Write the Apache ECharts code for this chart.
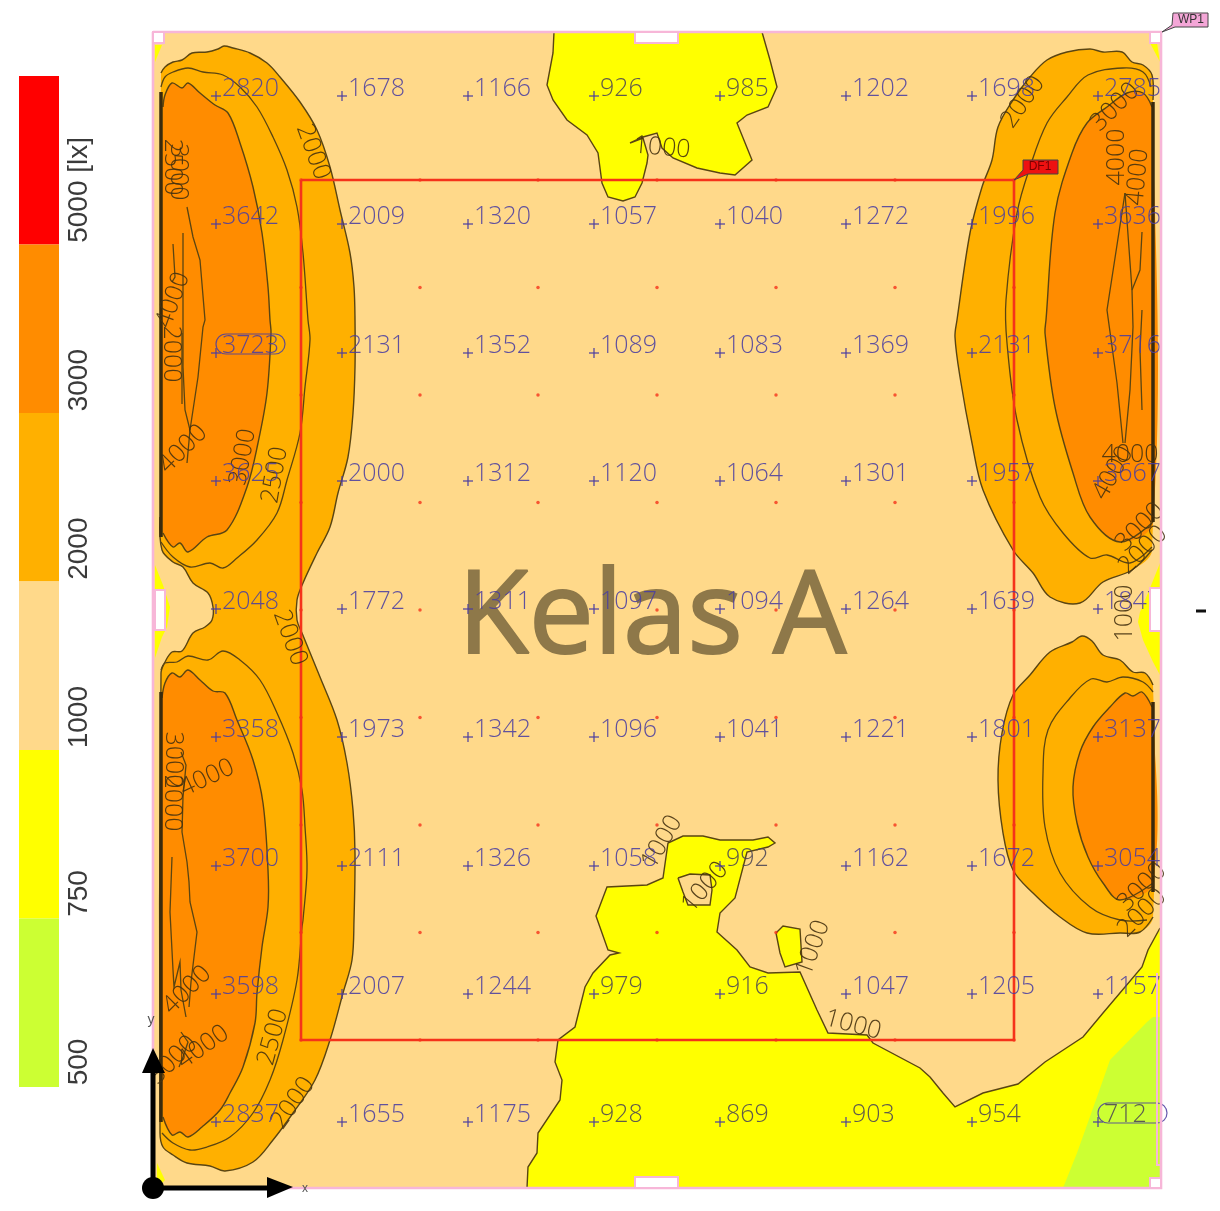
<!DOCTYPE html>
<html><head><meta charset="utf-8"><style>html,body{margin:0;padding:0;background:#fff}#c{width:1220px;height:1211px;filter:blur(0.4px)}</style>
<script src="https://cdn.jsdelivr.net/npm/echarts@6/dist/echarts.min.js"></script></head><body><div id="c"></div>
<script>
// ---- illuminance readings (lx) at the measuring grid, top row first
const gridColumns=[63,189,315,441,567,693,819,945];
const gridRows=[64,192,321,449,577,705,834,962,1090];
const row1=[2820,1678,1166,926,985,1202,1698,2785];
const row2=[3642,2009,1320,1057,1040,1272,1996,3636];
const row3=[3723,2131,1352,1089,1083,1369,2131,3716];
const row4=[3625,2000,1312,1120,1064,1301,1957,3667];
const row5=[2048,1772,1311,1097,1094,1264,1639,1847];
const row6=[3358,1973,1342,1096,1041,1221,1801,3137];
const row7=[3700,2111,1326,1058,992,1162,1672,3054];
const row8=[3598,2007,1244,979,916,1047,1205,1157];
const row9=[2837,1655,1175,928,869,903,954,712];
const readings=[row1,row2,row3,row4,row5,row6,row7,row8,row9];
// ---- colour scale
const legendBands=['5000 [lx]','3000','2000','1000','750','500'];
// ---- calculation surface
const calcColumns=[148,267,385,504,623,742,861];
const calcRows=[148,255.5,363,470.5,578,685.5,793,900.5,1008];
// ---- contour outlines, in room units
const left2000=[[8,41],[12,35],[20,30],[29,28],[39,21],[54,20],[65,17],[71,14],[80,16],[97,21],[114,31],[127,45],[147,70],[164,98],[177,135],[187,178],[197,221],[201,255],[202,288],[202,335],[200,381],[195,425],[185,461],[177,495],[164,521],[150,551],[144,568],[144,588],[149,601],[167,645],[184,688],[194,731],[200,778],[202,821],[201,888],[199,928],[190,961],[177,1008],[162,1048],[140,1081],[120,1108],[100,1130],[72,1139],[57,1134],[34,1131],[20,1123],[10,1115],[7,1101],[8,641],[12,630],[19,620],[29,619],[40,601],[52,595],[59,588],[60,575],[55,561],[40,551],[30,535],[20,530],[9,518],[7,485]];
const topLeft2500=[[8,55],[12,45],[20,40],[35,36],[50,40],[70,43],[87,55],[104,75],[120,105],[134,138],[144,175],[150,221],[155,288],[157,308],[152,355],[147,401],[134,448],[124,481],[104,508],[84,526],[70,536],[57,531],[37,535],[20,525],[8,510]];
const bottomLeft2500=[[8,638],[12,631],[24,630],[35,624],[55,628],[70,619],[87,628],[107,648],[124,681],[140,721],[149,758],[152,795],[154,838],[150,888],[149,895],[144,948],[130,1008],[117,1048],[100,1081],[77,1105],[54,1115],[37,1118],[20,1111],[9,1101]];
const topLeft3000=[[10,75],[12,63],[19,51],[29,56],[35,51],[47,61],[62,73],[75,81],[87,111],[100,155],[109,201],[115,255],[117,288],[118,301],[114,361],[105,411],[94,455],[74,498],[54,505],[35,520],[27,511],[20,515],[10,501]];
const bottomLeft3000=[[9,666],[12,651],[19,641],[27,645],[35,638],[47,648],[60,659],[72,661],[84,688],[100,728],[110,771],[115,838],[115,875],[109,915],[104,961],[102,991],[90,1035],[77,1061],[67,1078],[49,1095],[35,1105],[27,1100],[19,1103],[10,1085]];
const topRight2000=[[1000,68],[999,43],[990,33],[979,30],[969,20],[950,20],[937,17],[914,20],[894,28],[877,45],[860,68],[845,95],[839,128],[829,155],[817,201],[804,288],[802,305],[807,345],[819,411],[830,458],[860,518],[880,541],[897,565],[927,571],[950,550],[979,538],[999,518]];
const topRight2500=[[998,55],[990,40],[970,36],[935,43],[914,65],[894,91],[877,135],[864,181],[853,268],[854,311],[864,388],[887,465],[910,501],[937,526],[954,523],[977,531],[999,515]];
const topRight3000=[[999,75],[990,61],[974,61],[954,75],[934,91],[919,121],[902,181],[893,288],[892,301],[902,375],[920,441],[937,485],[967,510],[1000,490]];
const midRight2000=[[1000,653],[992,641],[980,640],[967,628],[950,623],[939,609],[929,604],[919,610],[897,620],[877,643],[860,663],[849,701],[845,748],[850,801],[860,838],[880,861],[907,885],[934,901],[967,901],[987,900],[1000,885]];
const midRight2500=[[1000,660],[990,650],[970,645],[954,650],[938,647],[917,666],[895,698],[890,741],[892,795],[907,841],[937,875],[967,888],[994,888]];
const midRight3000=[[999,675],[989,660],[980,664],[972,661],[957,675],[940,695],[927,720],[920,755],[924,791],[935,825],[950,851],[967,868],[1000,851]];
const top1000=[[401,0],[400,21],[394,53],[400,68],[414,88],[434,103],[445,121],[449,151],[455,165],[470,169],[482,165],[489,151],[494,131],[495,123],[490,106],[477,111],[490,105],[504,101],[509,116],[520,126],[544,136],[567,141],[582,143],[599,128],[584,91],[594,83],[615,75],[624,55],[617,28],[609,0]];
const bottom1000=[[374,1156],[375,1135],[384,1121],[385,1101],[407,1068],[409,1048],[402,1030],[405,1008],[422,995],[432,955],[440,941],[457,923],[466,921],[455,918],[443,884],[454,855],[494,853],[510,846],[515,811],[530,804],[550,804],[567,808],[600,808],[615,805],[622,811],[615,815],[594,820],[582,866],[567,881],[564,900],[584,918],[597,935],[615,941],[647,940],[664,978],[675,1001],[714,1003],[720,1011],[767,1036],[777,1045],[790,1061],[802,1075],[830,1061],[865,1052],[892,1030],[930,1005],[950,981],[989,935],[995,918],[1007,896]];
const bottomClosure=[[1008,1156]];
const islandPeach=[[525,846],[537,842],[557,843],[559,858],[557,873],[535,873],[530,860],[525,846]];
const islandYellow=[[623,901],[630,894],[647,897],[649,930],[632,935],[627,921],[623,901]];
const right750=[[910,1156],[924,1121],[944,1065],[957,1028],[994,990],[1000,985],[1007,985],[1007,1156]];
const wedgeTopLeft=[[2,13],[9,13],[2,30]];
const wedgeTopRight=[[997,11],[1004,11],[1007,30]];
const wedgeNeckLeft=[[2,533],[10,553],[17,575],[14,595],[9,605],[2,626]];
const wedgeNeckRight=[[1007,531],[995,561],[987,580],[985,590],[990,608],[1000,630],[1007,643]];
const wedgeBottomLeft=[[4,1131],[12,1148],[4,1156]];
// inner 4000 lx lines and dark wall faces
const lines4000=[
 [[34,175],[40,205],[47,228],[52,288],[50,295],[45,345],[37,398],[34,431]],
 [[30,201],[30,288],[30,335],[32,378],[37,398]],
 [[20,212],[22,245],[19,250]],
 [[29,301],[29,372]],
 [[28,720],[33,733],[30,765],[29,800],[34,830],[36,850],[37,870],[44,900],[41,925],[38,950],[36,975]],
 [[19,825],[17,880],[20,938],[21,955],[27,930],[28,958],[33,985]],
 [[28,1000],[35,1010],[30,1025],[26,1035]],
 [[972,161],[954,278],[964,351],[970,411]],
 [[972,161],[979,258],[980,295],[977,358],[972,411]],
 [[989,200],[987,238],[979,258]],
 [[989,278],[987,318],[989,378]]
];
const wallFaces=[[[8,60],[8,505]],[[8,660],[8,1090]],[[1000,70],[1000,490]],[[1000,670],[1000,860]]];
// contour annotations: position, angle (degrees), level
const contourLabels=[
 [160,120,-70,'2000'],[19,135,-90,'2500'],[25,140,-90,'3000'],[20,268,70,'4000'],[18,322,-90,'2000'],[30,417,45,'4000'],[90,425,80,'3000'],[122,443,80,'2500'],[137,606,-70,'2000'],
 [20,728,-90,'3000'],[19,771,-90,'2000'],[54,746,25,'4000'],[34,958,45,'4000'],[20,1028,45,'3000'],[50,1015,35,'4000'],[120,1005,75,'2500'],[140,1071,55,'2000'],
 [870,70,55,'2000'],[962,75,45,'3000'],[964,125,90,'4000'],[985,145,85,'4000'],[977,423,0,'4000'],[960,441,60,'4000'],[987,495,45,'3000'],[990,518,45,'2000'],[972,581,90,'1000'],
 [989,855,45,'3000'],[989,881,45,'2000'],
 [509,116,-5,'1000'],[509,810,60,'1000'],[552,855,50,'1000'],[660,916,70,'1000'],[700,993,-15,'1000']
];
const watermark='Kelas A';
const windowsWhite=[[482,0,43,11],[482,1145,43,11],[2,558,10,40],[997,556,11,43],[0,0,11,11],[997,0,11,11],[997,1146,11,10]];
const calcOutline=[[148,148],[861,148],[861,1008],[148,1008],[148,148]];
const roomOutline=[[0,0],[1008,0],[1008,1156],[0,1156],[0,0]];
const roomInnerLine=[[1004,941],[1004,1133],[1008,1133]];
const wpTag=[[1020,-19],[1055,-19],[1055,-5],[1022,-5],[1009,0],[1019,-7]];
const dfTag=[[870,128],[905,128],[905,142],[875,142],[861,148],[870,138]];

// ---- styles
const C={green:'#CCFF33',yellow:'#FFFF00',peach:'#FFD98A',amber:'#FFB000',orange:'#FF8C00',red:'#FF0000',line:'#5A4512',pink:'#F7B6D8',value:'#4A3DA0',red2:'#F5331A'};
const legendColors=[C.red,C.orange,C.amber,C.peach,C.yellow,C.green];
const S=0.35;
const fills=[
 [C.yellow,top1000,[],0],[C.yellow,bottom1000,bottomClosure,0],[C.green,right750,null,0],
 [C.yellow,wedgeTopLeft,null,0],[C.yellow,wedgeTopRight,null,0],[C.yellow,wedgeNeckLeft,null,0],[C.yellow,wedgeNeckRight,null,0],[C.yellow,wedgeBottomLeft,null,0],
 [C.peach,islandPeach,[],0],[C.yellow,islandYellow,[],0],
 [C.amber,left2000,[],S],[C.amber,topRight2000,[],S],[C.amber,midRight2000,[],S],
 [C.orange,topLeft3000,[],S],[C.orange,bottomLeft3000,[],S],[C.orange,topRight3000,[],S],[C.orange,midRight3000,[],S]
];
const contourLines=[topLeft2500,bottomLeft2500,topRight2500,midRight2500].concat(lines4000);
const flat=[];readings.forEach((r,j)=>r.forEach((v,i)=>flat.push([gridColumns[i],gridRows[j],v])));
const allVals=flat.map(d=>d[2]);const hi=Math.max(...allVals),lo=Math.min(...allVals);
const FONT='300 25px "Open Sans"';
const idx=a=>a.map((_,i)=>[i]);
const P=(pts,api)=>pts.map(p=>api.coord(p));
const base={type:'custom',coordinateSystem:'cartesian2d',xAxisIndex:0,yAxisIndex:0,silent:true,clip:false,animation:false};
const dot=calcColumns.flatMap(x=>calcRows.map(y=>[x,y]));
const tag=(api,pts,fill,txt,tx,ty,col)=>{const c=api.coord([tx,ty]);return {type:'group',children:[
 {type:'polygon',shape:{points:P(pts,api)},style:{fill,stroke:'#444',lineWidth:1}},
 {type:'text',x:c[0],y:c[1],style:{text:txt,fill:col,font:'12px "Liberation Sans"',align:'center',verticalAlign:'middle'}}]};};
const option={
 animation:false,backgroundColor:'#fff',
 grid:[{left:153,top:32,width:1008,height:1156},{left:19,top:76,width:40,height:1011}],
 xAxis:[{type:'value',min:0,max:1008,show:false,gridIndex:0},{type:'value',min:0,max:1,show:false,gridIndex:1}],
 yAxis:[{type:'value',min:0,max:1156,inverse:true,show:false,gridIndex:0},{type:'category',data:legendBands,inverse:true,show:false,gridIndex:1}],
 series:[
  {type:'bar',xAxisIndex:1,yAxisIndex:1,barWidth:'100%',silent:true,z:1,
   data:legendBands.map((b,i)=>({value:1,itemStyle:{color:legendColors[i]}})),
   label:{show:true,formatter:p=>p.name,position:['151%','99%'],rotate:90,align:'left',verticalAlign:'middle',color:'#3A3A3A',fontFamily:'"Liberation Sans Narrow","Liberation Sans"',fontSize:28}},
  // room floor
  Object.assign({},base,{z:2,data:[[0]],renderItem:(p,api)=>({type:'polygon',shape:{points:P(roomOutline,api)},style:{fill:C.peach}})}),
  // contour fills
  Object.assign({},base,{z:3,data:idx(fills),renderItem:(p,api)=>{const f=fills[p.dataIndex];const ch=[{type:'polygon',shape:{points:P(f[1].concat(f[2]||[]),api),smooth:f[3]},style:{fill:f[0]}}];
    if(f[2])ch.push({type:'polyline',shape:{points:P(f[1],api),smooth:f[3]},style:{fill:'none',stroke:C.line,lineWidth:1.4}});return {type:'group',children:ch};}}),
  // contour lines
  Object.assign({},base,{z:4,data:idx(contourLines),renderItem:(p,api)=>({type:'polyline',shape:{points:P(contourLines[p.dataIndex],api),smooth:p.dataIndex<4?S:0},style:{fill:'none',stroke:C.line,lineWidth:1.3}})}),
  Object.assign({},base,{z:4,data:idx(wallFaces),renderItem:(p,api)=>({type:'polyline',shape:{points:P(wallFaces[p.dataIndex],api)},style:{fill:'none',stroke:'#3A2A0C',lineWidth:3.5}})}),
  // calculation surface
  Object.assign({},base,{z:5,data:[[0]],renderItem:(p,api)=>({type:'polyline',shape:{points:P(calcOutline,api)},style:{fill:'none',stroke:C.red2,lineWidth:2.6}})}),
  {type:'scatter',xAxisIndex:0,yAxisIndex:0,z:6,silent:true,symbol:'circle',symbolSize:3.5,itemStyle:{color:C.red2},data:dot},
  // watermark
  Object.assign({},base,{z:7,data:[[499,588]],renderItem:(p,api)=>{const c=api.coord([api.value(0),api.value(1)]);return {type:'text',x:c[0],y:c[1],style:{text:watermark,fill:'#8E7849',stroke:'#8E7849',lineWidth:2,font:'116px "Open Sans"',align:'center',verticalAlign:'middle'}};}}),
  // contour labels
  Object.assign({},base,{z:8,data:idx(contourLabels),renderItem:(p,api)=>{const l=contourLabels[p.dataIndex];const c=api.coord([l[0],l[1]]);return {type:'text',x:c[0],y:c[1],rotation:l[2]*Math.PI/180,style:{text:l[3],fill:'rgba(70,50,15,.9)',font:FONT,align:'center',verticalAlign:'middle'}};}}),
  // readings
  Object.assign({},base,{z:9,data:flat,encode:{x:0,y:1},renderItem:(p,api)=>{const c=api.coord([api.value(0),api.value(1)]);const v=api.value(2);const x=c[0],y=c[1];
    const ch=[{type:'line',shape:{x1:x-5,y1:y,x2:x+5,y2:y},style:{stroke:C.value,lineWidth:1.2}},{type:'line',shape:{x1:x,y1:y-5,x2:x,y2:y+5},style:{stroke:C.value,lineWidth:1.2}},
     {type:'text',x:x+6,y:y+5,style:{text:String(v),fill:v<1000?'#4A4455':C.value,opacity:.88,font:FONT,align:'left',verticalAlign:'bottom'}}];
    if(v===hi||v===lo)ch.push({type:'rect',shape:{x:x,y:y-19,width:69,height:20,r:10},style:{fill:'none',stroke:C.value,lineWidth:1.2,opacity:.85}});
    return {type:'group',children:ch};}}),
  // room outline and openings
  Object.assign({},base,{z:10,data:[[0]],renderItem:(p,api)=>({type:'group',children:[
    {type:'polyline',shape:{points:P(roomOutline,api)},style:{fill:'none',stroke:C.pink,lineWidth:2.6}},
    {type:'polyline',shape:{points:P(roomInnerLine,api)},style:{fill:'none',stroke:C.pink,lineWidth:2}}]})}),
  Object.assign({},base,{z:11,data:idx(windowsWhite),renderItem:(p,api)=>{const w=windowsWhite[p.dataIndex];const a=api.coord([w[0],w[1]]),b=api.coord([w[0]+w[2],w[1]+w[3]]);return {type:'rect',shape:{x:a[0],y:a[1],width:b[0]-a[0],height:b[1]-a[1]},style:{fill:'#fff',stroke:C.pink,lineWidth:2}};}}),
  // origin arrows
  Object.assign({},base,{z:12,data:[[0,1156]],renderItem:(p,api)=>{const a=(x,y)=>api.coord([x,y]);const o=a(0,1156);return {type:'group',children:[
    {type:'line',shape:{x1:o[0],y1:o[1],x2:a(0,1040)[0],y2:a(0,1040)[1]},style:{stroke:'#000',lineWidth:5}},
    {type:'line',shape:{x1:o[0],y1:o[1],x2:a(115,1156)[0],y2:a(115,1156)[1]},style:{stroke:'#000',lineWidth:5}},
    {type:'polygon',shape:{points:P([[0,1016],[12,1041],[-11,1041]],api)},style:{fill:'#000'}},
    {type:'polygon',shape:{points:P([[140,1155],[114,1145],[114,1166]],api)},style:{fill:'#000'}},
    {type:'circle',shape:{cx:o[0],cy:o[1],r:11},style:{fill:'#000'}},
    {type:'text',x:a(-2,988)[0],y:a(-2,988)[1],style:{text:'y',fill:'#555',font:'14px "Liberation Sans"',align:'center',verticalAlign:'middle'}},
    {type:'text',x:a(152,1157)[0],y:a(152,1157)[1],style:{text:'x',fill:'#555',font:'12px "Liberation Sans"',align:'center',verticalAlign:'middle'}}]};}}),
  // tags
  Object.assign({},base,{z:13,data:[[0]],renderItem:(p,api)=>({type:'group',children:[
    tag(api,wpTag,'#F4A6D7','WP1',1038,-12,'#333'),tag(api,dfTag,'#EE1111','DF1',887,135,'#7A0000'),
    {type:'line',shape:{x1:api.coord([1043,579])[0],y1:api.coord([1043,579])[1],x2:api.coord([1053,579])[0],y2:api.coord([1053,579])[1]},style:{stroke:'#111',lineWidth:3}}]})})
 ]
};
echarts.init(document.getElementById('c'),null,{renderer:'canvas'}).setOption(option);
</script></body></html>
